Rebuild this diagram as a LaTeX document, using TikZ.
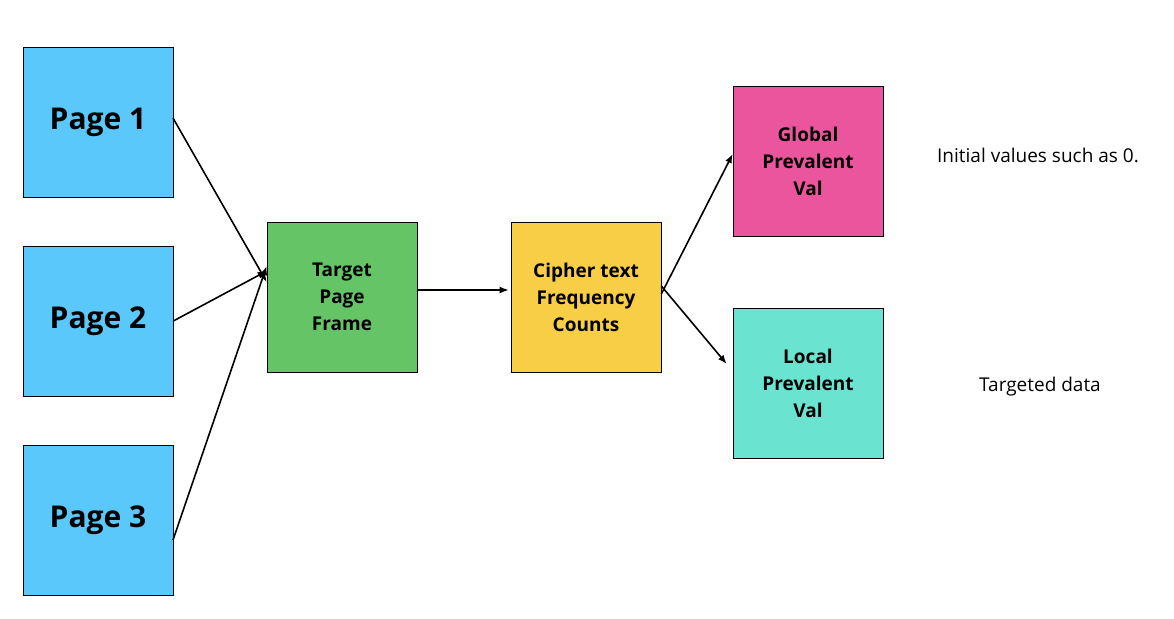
\documentclass[tikz,border=0pt]{standalone}
\usepackage{fontspec}
\setmainfont{Open Sans}
\usetikzlibrary{arrows.meta}
\definecolor{cblue}{HTML}{5AC8FA}
\definecolor{cgreen}{HTML}{65C466}
\definecolor{cyellow}{HTML}{F7CE46}
\definecolor{cpink}{HTML}{EB559E}
\definecolor{cteal}{HTML}{6BE3D1}
\begin{document}
\begin{tikzpicture}[x=1pt,y=-1pt,
  box/.style={draw=black,line width=0.6pt,minimum width=150pt,minimum height=150pt,inner sep=0pt,align=center,font=\bfseries\fontsize{19}{27}\selectfont},
  big/.style={font=\bfseries\fontsize{30}{36}\selectfont},
  arr/.style={-{Latex[length=9pt,width=7pt]},line width=1.6pt}]
\useasboundingbox (0,0) rectangle (1174,618);
\node[box,big,fill=cblue] (p1) at (98,122) {Page 1};
\node[box,big,fill=cblue] (p2) at (98,321) {Page 2};
\node[box,big,fill=cblue] (p3) at (98,520) {Page 3};
\node[box,fill=cgreen] (t) at (342,297) {Target\\Page\\Frame};
\node[box,fill=cyellow] (c) at (586,297) {Cipher text\\Frequency\\Counts};
\node[box,fill=cpink] (g) at (808,161) {Global\\Prevalent\\Val};
\node[box,fill=cteal] (l) at (808,383) {Local\\Prevalent\\Val};
\node[font=\fontsize{19}{24}\selectfont] (n1) at (1038,155) {Initial values such as 0.};
\node[font=\fontsize{19}{24}\selectfont] (n2) at (1040,387) {Targeted data};
\coordinate (p1o) at (173,118);
\coordinate (p3o) at (173,540);
\draw[arr] (p1o) -- ([yshift=15pt]t.west);
\draw[arr] (p2.east) -- ([yshift=26pt]t.west);
\draw[arr] (p3o) -- ([yshift=31pt]t.west);
\draw[arr] ([yshift=7pt,xshift=1pt]t.east) -- ([yshift=7pt,xshift=-2pt]c.west);
\draw[arr] ([yshift=3pt]c.east) -- ([yshift=7pt]g.west);
\draw[arr] ([yshift=11pt]c.east) -- ([yshift=19pt,xshift=-6pt]l.west);
\end{tikzpicture}
\end{document}
